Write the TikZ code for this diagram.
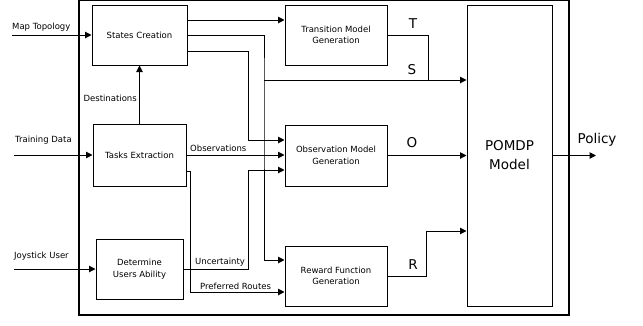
\documentclass[tikz,border=0pt]{standalone}
\usepackage{fontspec}
\setmainfont{DejaVu Sans}
\usetikzlibrary{arrows.meta}
\newcommand\diagfont{\fontsize{8.5}{11.5}\selectfont}
\newcommand\diagbigfont{\fontsize{13.5}{19}\selectfont}
\def\drawarrow{\draw[line width=1pt,-{Triangle[length=6.5pt,width=6.5pt]}]}
\def\drawline{\draw[line width=1pt]}
\def\blocknode{\node[draw,line width=1pt,align=center,inner sep=1pt,font=\diagfont]}
\def\labelnode{\node[inner sep=0pt,font=\diagfont]}
\def\letternode{\node[inner sep=0pt,align=center,font=\diagbigfont]}

\begin{document}
\begin{tikzpicture}[x=1pt,y=-1pt]
\useasboundingbox (0,0) rectangle (643,325);
\draw[line width=1.3pt] (79,0.8) rectangle (569,315);
% blocks
\blocknode (states) [minimum width=95pt,minimum height=60pt] at (139.5,35) {States Creation};
\blocknode (tasks) [minimum width=93pt,minimum height=62pt] at (139.5,155) {Tasks Extraction};
\blocknode (ability) [minimum width=87pt,minimum height=60pt] at (139.5,269) {Determine\\Users Ability};
\blocknode (trans) [minimum width=102pt,minimum height=60pt] at (336,35) {Transition Model\\Generation};
\blocknode (obs) [minimum width=102pt,minimum height=61pt] at (336,155.5) {Observation Model\\Generation};
\blocknode (reward) [minimum width=102pt,minimum height=60pt] at (336,276) {Reward Function\\Generation};
\node (pomdp) [draw,line width=1pt,align=center,font=\diagbigfont,minimum width=85pt,minimum height=301pt] at (509.5,155.5) {POMDP\\Model};
% labels
\labelnode (maplbl) [anchor=west] at (12,27) {Map Topology};
\labelnode (trainlbl) [anchor=west] at (15,140) {Training Data};
\labelnode (joylbl) [anchor=west] at (14,256) {Joystick User};
\labelnode (destlbl) [anchor=east] at (137,98) {Destinations};
\labelnode (obslbl) [anchor=west] at (190,148) {Observations};
\labelnode (unclbl) [anchor=west] at (195,262) {Uncertainty};
\labelnode (preflbl) [anchor=west] at (200,286) {Preferred Routes};
\letternode (tlbl) at (413,24) {T};
\letternode (slbl) at (412,70) {S};
\letternode (olbl) at (412,143) {O};
\letternode (rlbl) at (413,265) {R};
\letternode (policylbl) at (597,140) {Policy};
% free ends and joins
\coordinate (mapin) at (12,35);
\coordinate (trainin) at (14,155);
\coordinate (joyin) at (14,269);
\coordinate (policyout) at (596,155.5);
\coordinate (sbus) at (264,80);
\coordinate (tjoin) at (428,80);
% connectors
\drawarrow (mapin) -- (mapin -| states.west);
\drawarrow (trainin) -- (trainin -| tasks.west);
\drawarrow (joyin) -- (joyin -| ability.west);
\drawarrow (tasks.north) -- (states.south);
\drawarrow ([yshift=15pt]states.east) -- ([yshift=15pt]trans.west);
\drawarrow (states.east) -| (sbus) |- ([yshift=16pt]reward.west);
\drawarrow (sbus) -- (sbus -| pomdp.west);
\drawline (trans.east) -| (tjoin);
\drawarrow ([yshift=-16pt]states.east) -| ([xshift=-36.5pt,yshift=15.5pt]obs.west) -- ([yshift=15.5pt]obs.west);
\drawarrow (tasks.east) -- (tasks.east -| obs.west);
\drawarrow ([yshift=-16pt]tasks.east) -| ([xshift=-94pt,yshift=-16pt]reward.west) -- ([yshift=-16pt]reward.west);
\drawarrow (ability.east) -| ([xshift=-36.5pt,yshift=-14.5pt]obs.west) -- ([yshift=-14.5pt]obs.west);
\drawarrow (obs.east) -- (obs.east -| pomdp.west);
\drawarrow (reward.east) -| ([xshift=-40pt,yshift=-75.5pt]pomdp.west) -- ([yshift=-75.5pt]pomdp.west);
\drawarrow (pomdp.east) -- (policyout);
\end{tikzpicture}
\end{document}
